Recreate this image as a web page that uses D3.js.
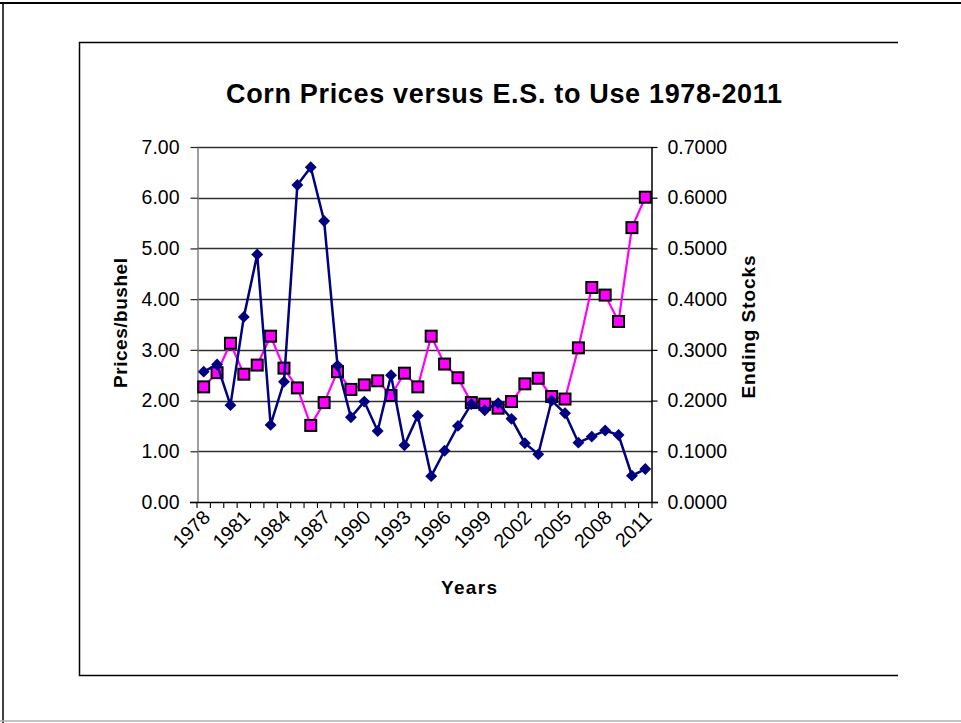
<!DOCTYPE html>
<html>
<head>
<meta charset="utf-8">
<script src="https://cdn.jsdelivr.net/npm/d3@7"></script>
<style>
  html, body { margin: 0; padding: 0; background: #fff; }
  svg { display: block; font-family: Arial, "Liberation Sans", sans-serif; }
</style>
</head>
<body>
<svg id="chart" width="961" height="723"></svg>
<script>
// ---- data ----
const years = ["1978","1979","1980","1981","1982","1983","1984","1985","1986","1987",
  "1988","1989","1990","1991","1992","1993","1994","1995","1996","1997",
  "1998","1999","2000","2001","2002","2003","2004","2005","2006","2007",
  "2008","2009","2010","2011"];
// Corn price, $/bushel (left axis)
const prices = [2.27, 2.55, 3.13, 2.52, 2.70, 3.27, 2.64, 2.25, 1.51, 1.96,
  2.57, 2.22, 2.31, 2.39, 2.10, 2.54, 2.27, 3.27, 2.72, 2.45,
  1.96, 1.93, 1.85, 1.98, 2.33, 2.44, 2.08, 2.03, 3.04, 4.23,
  4.08, 3.56, 5.41, 6.01];
// Ending stocks to use ratio (right axis)
const endingStocks = [0.257, 0.271, 0.191, 0.365, 0.488, 0.152, 0.237, 0.625, 0.660, 0.554,
  0.269, 0.167, 0.198, 0.140, 0.250, 0.112, 0.170, 0.051, 0.101, 0.150,
  0.193, 0.181, 0.195, 0.164, 0.116, 0.094, 0.200, 0.175, 0.117, 0.129,
  0.141, 0.132, 0.052, 0.065];
const leftTicks = [0, 1, 2, 3, 4, 5, 6, 7];
const rightTicks = [0, 0.1, 0.2, 0.3, 0.4, 0.5, 0.6, 0.7];
const labeledYears = years.filter((d, i) => i % 3 === 0);

const title = "Corn Prices versus E.S. to Use 1978-2011";
const yLeftTitle = "Prices/bushel";
const yRightTitle = "Ending Stocks";
const xTitle = "Years";

// ---- layout ----
const svg = d3.select("#chart");
const plot = { left: 197, right: 652, top: 147, bottom: 502 };

// outer frames
svg.append("line").attr("x1", 0).attr("x2", 961).attr("y1", 3).attr("y2", 3)
  .attr("stroke", "#000").attr("stroke-width", 2);
svg.append("line").attr("x1", 3).attr("x2", 3).attr("y1", 3).attr("y2", 723)
  .attr("stroke", "#000").attr("stroke-width", 1.5);
svg.append("line").attr("x1", 0).attr("x2", 961).attr("y1", 721).attr("y2", 721)
  .attr("stroke", "#b0b0b0").attr("stroke-width", 1.5);
// chart box (no right edge)
svg.append("path").attr("d", "M898,42.5 H79.5 V675.5 H898")
  .attr("fill", "none").attr("stroke", "#000").attr("stroke-width", 1.5);

const x = d3.scaleBand().domain(years).range([plot.left, plot.right]).padding(0);
const yL = d3.scaleLinear().domain([0, 7]).range([plot.bottom, plot.top]);
const yR = d3.scaleLinear().domain([0, 0.7]).range([plot.bottom, plot.top]);

// gridlines
svg.append("g").selectAll("line").data(leftTicks.slice(1)).join("line")
  .attr("x1", plot.left).attr("x2", plot.right)
  .attr("y1", d => Math.round(yL(d)) + 0.5).attr("y2", d => Math.round(yL(d)) + 0.5)
  .attr("stroke", "#303030").attr("stroke-width", 1.3);

// left axis
const gL = svg.append("g").attr("transform", `translate(${plot.left + 0.5},0)`)
  .call(d3.axisLeft(yL).tickValues(leftTicks).tickFormat(d3.format(".2f"))
    .tickSizeInner(7).tickSizeOuter(0).tickPadding(11));
gL.select(".domain").attr("stroke", "#808080").attr("stroke-width", 1.5);
gL.selectAll(".tick line").attr("stroke", "#222").attr("stroke-width", 1.2);
gL.selectAll(".tick text").attr("font-size", 19.5).attr("fill", "#000")
  .attr("font-family", "Arial, 'Liberation Sans', sans-serif");

// right axis
const gR = svg.append("g").attr("transform", `translate(${plot.right - 0.5},0)`)
  .call(d3.axisRight(yR).tickValues(rightTicks).tickFormat(d3.format(".4f"))
    .tickSizeInner(6).tickSizeOuter(0).tickPadding(10));
gR.select(".domain").attr("stroke", "#000").attr("stroke-width", 1.5);
gR.selectAll(".tick line").attr("stroke", "#000").attr("stroke-width", 1.2);
gR.selectAll(".tick text").attr("font-size", 19.5).attr("fill", "#000")
  .attr("font-family", "Arial, 'Liberation Sans', sans-serif");

// bottom axis
const step = x.step();
const gB = svg.append("g");
gB.append("line").attr("x1", plot.left - 7).attr("x2", plot.right + 6)
  .attr("y1", plot.bottom + 0.5).attr("y2", plot.bottom + 0.5)
  .attr("stroke", "#000").attr("stroke-width", 1.3);
gB.selectAll("line.tk").data(d3.range(years.length + 1)).join("line").attr("class", "tk")
  .attr("x1", i => plot.left + i * step).attr("x2", i => plot.left + i * step)
  .attr("y1", plot.bottom).attr("y2", plot.bottom + 6)
  .attr("stroke", "#000").attr("stroke-width", 1.1);
gB.selectAll("text").data(labeledYears).join("text")
  .attr("transform", d => `translate(${x(d) + x.bandwidth() / 2 + 4},${plot.bottom + 13}) rotate(-45)`)
  .attr("text-anchor", "end").attr("dominant-baseline", "middle")
  .attr("font-size", 19.5).attr("fill", "#000")
  .text(d => d);

// titles
svg.append("text").attr("x", 504).attr("y", 103).attr("text-anchor", "middle")
  .attr("font-size", 27).attr("font-weight", "bold")
  .attr("textLength", 556).attr("lengthAdjust", "spacing").text(title);
svg.append("text").attr("transform", "translate(127,323) rotate(-90)")
  .attr("text-anchor", "middle").attr("font-size", 19).attr("font-weight", "bold")
  .attr("textLength", 130).attr("lengthAdjust", "spacing").text(yLeftTitle);
svg.append("text").attr("transform", "translate(755,327) rotate(-90)")
  .attr("text-anchor", "middle").attr("font-size", 19).attr("font-weight", "bold")
  .attr("textLength", 143).attr("lengthAdjust", "spacing").text(yRightTitle);
svg.append("text").attr("x", 469).attr("y", 594).attr("text-anchor", "middle")
  .attr("font-size", 19).attr("font-weight", "bold")
  .attr("textLength", 56).attr("lengthAdjust", "spacing").text(xTitle);

// series: prices (pink squares)
const cx = d => x(d) + x.bandwidth() / 2;
const priceData = years.map((y, i) => ({ y, v: prices[i] }));
const stockData = years.map((y, i) => ({ y, v: endingStocks[i] }));

svg.append("path").datum(priceData)
  .attr("fill", "none").attr("stroke", "#FF00FF").attr("stroke-width", 2.2)
  .attr("d", d3.line().x(d => cx(d.y)).y(d => yL(d.v)));
svg.append("g").selectAll("rect").data(priceData).join("rect")
  .attr("x", d => cx(d.y) - 5.5).attr("y", d => yL(d.v) - 5.5)
  .attr("width", 11).attr("height", 11)
  .attr("fill", "#FF00FF").attr("stroke", "#000").attr("stroke-width", 2);

// series: ending stocks (navy diamonds)
svg.append("path").datum(stockData)
  .attr("fill", "none").attr("stroke", "#000080").attr("stroke-width", 2.5)
  .attr("d", d3.line().x(d => cx(d.y)).y(d => yR(d.v)));
svg.append("g").selectAll("path").data(stockData).join("path")
  .attr("d", d3.symbol().type(d3.symbolDiamond2).size(90))
  .attr("transform", d => `translate(${cx(d.y)},${yR(d.v)})`)
  .attr("fill", "#000080");
</script>
</body>
</html>
